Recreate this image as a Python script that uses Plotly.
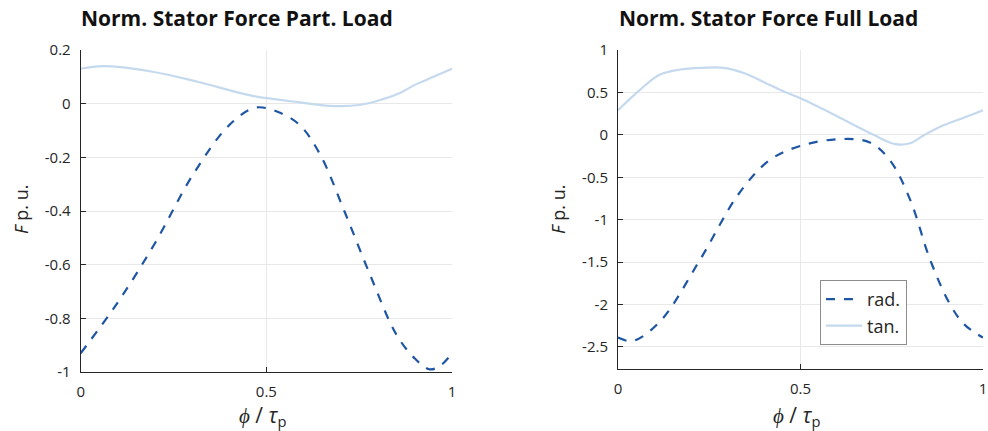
import plotly.graph_objects as go

# ---- data ----
x_part_rad = [0.0, 0.1, 0.2, 0.3, 0.4, 0.47, 0.53, 0.59, 0.645, 0.71, 0.78, 0.85, 0.90, 0.94, 0.97, 1.0]
y_part_rad = [-0.93, -0.74, -0.52, -0.27, -0.08, -0.015, -0.03, -0.08, -0.19, -0.40, -0.64, -0.86, -0.95, -0.99, -0.975, -0.93]

x_part_tan = [0.0, 0.06, 0.19, 0.32, 0.46, 0.59, 0.67, 0.75, 0.81, 0.86, 0.9, 0.95, 1.0]
y_part_tan = [0.13, 0.14, 0.12, 0.08, 0.03, 0.005, -0.008, -0.005, 0.015, 0.04, 0.07, 0.10, 0.13]

x_full_rad = [0.0, 0.04, 0.115, 0.225, 0.33, 0.415, 0.5, 0.61, 0.69, 0.745, 0.8, 0.855, 0.91, 0.95, 1.0]
y_full_rad = [-2.39, -2.43, -2.2, -1.47, -0.70, -0.30, -0.13, -0.05, -0.09, -0.30, -0.76, -1.47, -2.0, -2.24, -2.39]

x_full_tan = [0.0, 0.06, 0.115, 0.17, 0.23, 0.29, 0.35, 0.4, 0.45, 0.5, 0.6, 0.7, 0.76, 0.8, 0.84, 0.89, 0.94, 1.0]
y_full_tan = [0.29, 0.53, 0.71, 0.77, 0.79, 0.79, 0.72, 0.62, 0.52, 0.43, 0.22, 0.0, -0.11, -0.10, 0.0, 0.11, 0.19, 0.29]

titles = ["Norm. Stator Force Part. Load", "Norm. Stator Force Full Load"]
x_ticks = [0, 0.5, 1]
x_tick_labels = ["0", "0.5", "1"]
y_ticks_part = [-1, -0.8, -0.6, -0.4, -0.2, 0, 0.2]
y_ticks_full = [-2.5, -2, -1.5, -1, -0.5, 0, 0.5, 1]

RAD_C = "#1f56a3"
TAN_C = "#c5d9ee"
TXT = "#262626"
FONT = "Open Sans"

W = 988.0
H = 431.0


def px(x):
    return x / W


def py(y):
    return 1 - y / H


fig = go.Figure()
fig.add_trace(go.Scatter(x=x_part_tan, y=y_part_tan, mode="lines", line=dict(color=TAN_C, width=2.2, shape="spline"),
                         xaxis="x", yaxis="y", showlegend=False))
fig.add_trace(go.Scatter(x=x_part_rad, y=y_part_rad, mode="lines", line=dict(color=RAD_C, width=2.2, dash="dash", shape="spline"),
                         xaxis="x", yaxis="y", showlegend=False))
fig.add_trace(go.Scatter(x=x_full_rad, y=y_full_rad, mode="lines", name="rad.", line=dict(color=RAD_C, width=2.2, dash="dash", shape="spline"),
                         xaxis="x2", yaxis="y2"))
fig.add_trace(go.Scatter(x=x_full_tan, y=y_full_tan, mode="lines", name="tan.", line=dict(color=TAN_C, width=2.2, shape="spline"),
                         xaxis="x2", yaxis="y2"))

common_ax = dict(showline=True, linecolor=TXT, linewidth=1, ticks="inside", ticklen=5, tickcolor=TXT,
                 showgrid=True, gridcolor="#e8e8e8", gridwidth=1, zeroline=False, automargin=False,
                 ticklabeloverflow="allow",
                 tickfont=dict(family=FONT, size=15, color=TXT))

fig.update_layout(
    width=int(W), height=int(H),
    margin=dict(l=0, r=0, t=0, b=0, autoexpand=False),
    paper_bgcolor="white", plot_bgcolor="white",
    xaxis=dict(domain=[px(80.7), px(452)], range=[0, 1], tickvals=x_ticks, ticktext=x_tick_labels,
               anchor="y", ticklabelstandoff=6, **common_ax),
    yaxis=dict(domain=[py(372), py(50)], range=[-1, 0.2], tickvals=y_ticks_part,
               ticktext=[("%g" % v) for v in y_ticks_part], anchor="x", ticklabelstandoff=6, **common_ax),
    xaxis2=dict(domain=[px(618), px(983)], range=[0, 1], tickvals=x_ticks, ticktext=x_tick_labels,
                anchor="y2", ticklabelstandoff=6, **common_ax),
    yaxis2=dict(domain=[py(369), py(50)], range=[-2.76, 1], tickvals=y_ticks_full,
                ticktext=[("%g" % v) for v in y_ticks_full], anchor="x2", ticklabelstandoff=6, **common_ax),
    legend=dict(x=px(820), y=py(280), xanchor="left", yanchor="top", bgcolor="white",
                bordercolor="#8c8c8c", borderwidth=1, font=dict(family=FONT, size=18, color=TXT),
                tracegroupgap=0, itemwidth=36),
    showlegend=True,
)

# titles
fig.add_annotation(x=px(80), y=py(18), xref="paper", yref="paper", xanchor="left", yanchor="middle",
                   text="<b>" + titles[0] + "</b>", showarrow=False, borderpad=0,
                   font=dict(family=FONT, size=21, color="#111111"))
fig.add_annotation(x=px(618), y=py(18), xref="paper", yref="paper", xanchor="left", yanchor="middle",
                   text="<b>" + titles[1] + "</b>", showarrow=False, borderpad=0,
                   font=dict(family=FONT, size=21, color="#111111"))

# axis labels
xlab_txt = "<i>ϕ</i> / <i>τ</i><sub>p</sub>"
ylab_txt = "<i>F</i> p. u."
for cx in (262, 796):
    fig.add_annotation(x=px(cx), y=py(416), xref="paper", yref="paper", xanchor="center", yanchor="middle",
                       text=xlab_txt, showarrow=False, borderpad=0, font=dict(family=FONT, size=21, color=TXT))
for cx, cy in ((21, 210), (558, 210)):
    fig.add_annotation(x=px(cx), y=py(cy), xref="paper", yref="paper", xanchor="center", yanchor="middle",
                       text=ylab_txt, textangle=-90, showarrow=False, borderpad=0,
                       font=dict(family=FONT, size=18, color=TXT))

fig.write_html("out.html", config={"displayModeBar": False},
               post_script="document.body.style.margin='0px';document.body.style.overflow='hidden';")
